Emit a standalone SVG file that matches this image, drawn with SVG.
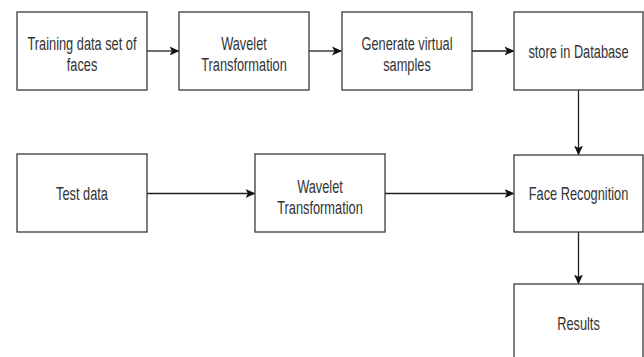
<svg xmlns="http://www.w3.org/2000/svg" width="644" height="357" viewBox="0 0 644 357">
  <style>
    .box { fill: #ffffff; stroke: #3a3a3a; stroke-width: 1.3; }
    .lbl { font-family: "Liberation Sans", Arial, sans-serif; font-size: 12.8px; fill: #333333; text-anchor: middle; }
    .edge { fill: none; stroke: #222222; stroke-width: 1.3; }
  </style>
  <defs>
    <marker id="arrow" viewBox="0 0 10 10" refX="9" refY="5" markerWidth="10" markerHeight="10" markerUnits="userSpaceOnUse" orient="auto">
      <path d="M0,0.5 L10,5 L0,9.5 L2.5,5 Z" fill="#111111"/>
    </marker>
  </defs>
  <rect width="644" height="357" fill="#ffffff"/>

  <g id="connectors">
    <line class="edge" x1="147" y1="51" x2="178.5" y2="51" marker-end="url(#arrow)"/>
    <line class="edge" x1="309" y1="51" x2="341" y2="51" marker-end="url(#arrow)"/>
    <line class="edge" x1="472" y1="51" x2="513.5" y2="51" marker-end="url(#arrow)"/>
    <line class="edge" x1="578.5" y1="90" x2="578.5" y2="154.5" marker-end="url(#arrow)"/>
    <line class="edge" x1="147" y1="193.5" x2="254.5" y2="193.5" marker-end="url(#arrow)"/>
    <line class="edge" x1="385" y1="193.5" x2="513.5" y2="193.5" marker-end="url(#arrow)"/>
    <line class="edge" x1="578.5" y1="232" x2="578.5" y2="283.5" marker-end="url(#arrow)"/>
  </g>

  <g id="training">
    <rect class="box" x="17" y="12" width="130" height="78"/>
    <text class="lbl" transform="translate(82,50) scale(1,1.38)">Training data set of</text>
    <text class="lbl" transform="translate(82,70.5) scale(1,1.38)">faces</text>
  </g>
  <g id="wavelet-train">
    <rect class="box" x="179" y="12" width="130" height="78"/>
    <text class="lbl" transform="translate(244,50) scale(1,1.38)">Wavelet</text>
    <text class="lbl" transform="translate(244,70.5) scale(1,1.38)">Transformation</text>
  </g>
  <g id="virtual">
    <rect class="box" x="342" y="12" width="130" height="78"/>
    <text class="lbl" transform="translate(407,50) scale(1,1.38)">Generate virtual</text>
    <text class="lbl" transform="translate(407,70.5) scale(1,1.38)">samples</text>
  </g>
  <g id="database">
    <rect class="box" x="514" y="12" width="129" height="78"/>
    <text class="lbl" transform="translate(578.5,58) scale(1,1.38)">store in Database</text>
  </g>

  <g id="test">
    <rect class="box" x="17" y="154" width="130" height="78"/>
    <text class="lbl" transform="translate(82,200) scale(1,1.38)">Test data</text>
  </g>
  <g id="wavelet-test">
    <rect class="box" x="255" y="154" width="130" height="78"/>
    <text class="lbl" transform="translate(320,193) scale(1,1.38)">Wavelet</text>
    <text class="lbl" transform="translate(320,213.5) scale(1,1.38)">Transformation</text>
  </g>
  <g id="recognition">
    <rect class="box" x="514" y="155" width="129" height="77"/>
    <text class="lbl" transform="translate(578.5,200) scale(1,1.38)">Face Recognition</text>
  </g>
  <g id="results">
    <rect class="box" x="514" y="284" width="129" height="80"/>
    <text class="lbl" transform="translate(578.5,330) scale(1,1.38)">Results</text>
  </g>
</svg>
